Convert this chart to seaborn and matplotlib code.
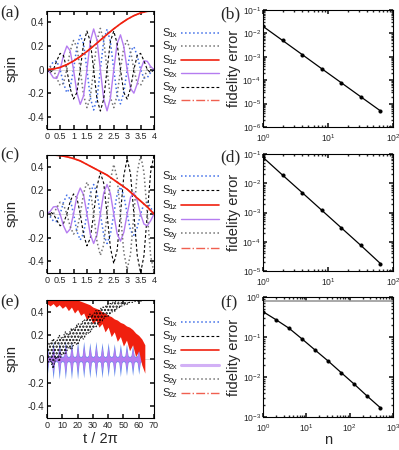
import numpy as np
import matplotlib
matplotlib.use('Agg')
import matplotlib.pyplot as plt
from matplotlib.lines import Line2D
import seaborn as sns

# --- Style -------------------------------------------------------------------
sns.set_theme(style='ticks')
plt.rcParams.update({
    'font.family': ['Liberation Sans', 'DejaVu Sans'],
    'mathtext.fontset': 'custom',
    'mathtext.rm': 'Liberation Sans',
    'mathtext.it': 'Liberation Sans:italic',
    'font.size': 7,
    'xtick.direction': 'in', 'ytick.direction': 'in',
    'xtick.top': True, 'ytick.right': True,
    'xtick.major.size': 3, 'ytick.major.size': 3,
    'xtick.minor.size': 1.5, 'ytick.minor.size': 1.5,
    'xtick.major.pad': 2.5, 'ytick.major.pad': 2,
    'xtick.labelsize': 6.5, 'ytick.labelsize': 7,
    'axes.linewidth': 0.8, 'axes.edgecolor': 'black',
    'hatch.linewidth': 1.1,
})
BLUE = '#3f6ee8'
PURPLE = '#b57cf0'
RED = '#f0200f'
LRED = '#f06050'
GREY = '0.45'

# =============================================================================
# DATA
# =============================================================================
# (a), (c): time axis in units of 2*pi, sampled every 1/8
t_osc = np.linspace(0, 4, 33)
t_z = np.linspace(0, 4, 17)

s1x_a = [0, .024, .068, .072, 0, -.117, -.195, -.157, 0, .192, .291, .218, 0, -.237, -.343, -.246, 0,
         .246, .343, .237, 0, -.218, -.291, -.192, 0, .157, .195, .117, 0, -.072, -.068, -.024, 0]
s2x_a = [0, -.026, -.07, -.075, 0, .12, .2, .16, 0, -.195, -.295, -.222, 0, .24, .345, .25, 0,
         -.25, -.35, -.24, 0, .22, .295, .195, 0, -.16, -.2, -.12, 0, .075, .07, .026, 0]
s1y_a = [0, .024, 0, -.072, -.134, -.117, 0, .157, .247, .192, 0, -.218, -.323, -.237, 0, .246, .35,
         .246, 0, -.237, -.323, -.218, 0, .192, .247, .157, 0, -.117, -.134, -.072, 0, .024, 0]
s2y_a = [0, -.026, 0, .075, .138, .12, 0, -.16, -.25, -.195, 0, .222, .327, .24, 0, -.25, -.352,
         -.25, 0, .24, .327, .222, 0, -.195, -.25, -.16, 0, .12, .138, .075, 0, -.026, 0]
s1z_a = [0, .005, .019, .042, .073, .111, .154, .201, .25, .299, .346, .389, .427, .458, .481, .495, .5]
s2z_a = s1z_a

s1x_c = [0, -.021, -.06, -.064, 0, .099, .16, .127, 0, -.148, -.22, -.163, 0, .173, .25, .177, 0,
         -.177, -.25, -.173, 0, .166, .23, .156, 0, -.141, -.18, -.113, 0, .085, .1, .057, 0]
s2x_c = [0, .021, .06, .064, 0, -.099, -.16, -.127, 0, .148, .22, .163, 0, -.173, -.25, -.177, 0,
         .177, .25, .173, 0, -.166, -.23, -.156, 0, .141, .18, .113, 0, -.085, -.1, -.057, 0]
s1y_c = [0, .018, 0, -.053, -.1, -.081, 0, .106, .17, .138, 0, -.173, -.27, -.205, 0, .233, .35,
         .262, 0, -.286, -.42, -.308, 0, .325, .47, .339, 0, -.35, -.5, -.354, 0, .354, .5]
s2y_c = [-v for v in s1y_c]
s1z_c = [.5, .5, .495, .485, .47, .45, .42, .39, .36, .33, .29, .25, .21, .16, .11, .06, 0]
s2z_c = s1z_c

# (e): long-time dynamics, band edges
t_red = np.arange(0, 65, 2)
red_hi = [.5, .5, .5, .5, .5, .5, .5, .5, .5, .5, .5, .49, .48, .47, .46, .44, .43,
          .42, .4, .39, .37, .36, .34, .33, .31, .3, .28, .27, .25, .22, .2, .17, .12]
red_lo = [.47, .45, .47, .44, .46, .43, .45, .41, .44, .39, .42, .37, .39, .33, .36, .3, .33,
          .27, .3, .23, .27, .19, .23, .15, .19, .11, .16, .07, .12, .02, .07, -.05, -.12]
t_xy = np.arange(0, 63, 1)
blue_hi = [.14, .03, .02, .03, .15, .03, .02, .03, .15, .03, .02, .03, .16, .03, .02, .03,
           .15, .03, .02, .03, .15, .03, .02, .03, .15, .03, .02, .03, .14, .03, .02, .03,
           .15, .03, .02, .03, .14, .03, .02, .03, .14, .03, .02, .03, .13, .03, .02, .03,
           .13, .03, .02, .03, .13, .03, .02, .03, .12, .03, .02, .03, .12, .03, .02]
blue_lo = [-.16, -.03, -.02, -.03, -.17, -.03, -.02, -.03, -.17, -.03, -.02, -.03, -.17, -.03, -.02, -.03,
           -.17, -.03, -.02, -.03, -.17, -.03, -.02, -.03, -.16, -.03, -.02, -.03, -.16, -.03, -.02, -.03,
           -.16, -.03, -.02, -.03, -.16, -.03, -.02, -.03, -.15, -.03, -.02, -.03, -.15, -.03, -.02, -.03,
           -.15, -.03, -.02, -.03, -.14, -.03, -.02, -.03, -.14, -.03, -.02, -.03, -.13, -.03, -.02]
purple_hi = [.1, .02, .015, .02, .11, .02, .015, .02, .11, .02, .015, .02, .12, .02, .015, .02,
             .11, .02, .015, .02, .11, .02, .015, .02, .11, .02, .015, .02, .1, .02, .015, .02,
             .11, .02, .015, .02, .1, .02, .015, .02, .1, .02, .015, .02, .1, .02, .015, .02,
             .09, .02, .015, .02, .09, .02, .015, .02, .09, .02, .015, .02, .08, .02, .015]
purple_lo = [-v for v in purple_hi]
t_band = np.arange(0, 63, 2)
black_hi = [.15, .12, .17, .14, .2, .17, .23, .2, .26, .25, .3, .29, .33, .33, .38, .37,
            .41, .41, .44, .44, .47, .47, .49, .49, .5, .5, .5, .5, .5, .5, .5, .5]
black_lo = [-.05, 0, -.08, .02, -.02, .05, .04, .1, .08, .14, .12, .18, .17, .22, .22, .27,
            .27, .31, .32, .36, .36, .4, .4, .43, .44, .46, .46, .48, .48, .49, .49, .49]

# (b), (d), (f): fidelity error vs number of steps n
n_b = [1, 2, 4, 8, 16, 32, 64]
err_b = [2.0e-2, 5.0e-3, 1.25e-3, 3.1e-4, 7.8e-5, 1.95e-5, 4.9e-6]
n_d = [1, 2, 4, 8, 16, 32, 64]
err_d = [7.7e-2, 1.9e-2, 4.8e-3, 1.2e-3, 3.0e-4, 7.5e-5, 1.8e-5]
n_f = [1, 2, 4, 8, 16, 32, 64, 128, 256, 512]
err_f = [0.43, 0.27, 0.165, 0.089, 0.047, 0.025, 0.0128, 0.0066, 0.0033, 0.0017]
ref_f = 0.78

subs = ['1x', '1y', '1z', '2x', '2y', '2z']

# line styles per curve (S1x, S1y, S1z, S2x, S2y, S2z)
sty_a = [dict(color=BLUE, ls=':', lw=1.1), dict(color=GREY, ls=':', lw=1.1),
         dict(color=RED, ls='-', lw=1.2), dict(color=PURPLE, ls='-', lw=1.0),
         dict(color='black', ls=(0, (2.5, 2)), lw=0.8), dict(color=LRED, ls='-.', lw=1.0)]
sty_c = [dict(color=BLUE, ls=':', lw=1.1), dict(color='black', ls=(0, (2.5, 2)), lw=0.8),
         dict(color=RED, ls='-', lw=1.2), dict(color=PURPLE, ls='-', lw=1.0),
         dict(color=GREY, ls=':', lw=1.1), dict(color=LRED, ls='-.', lw=1.0)]
sty_e = [dict(color=BLUE, ls=':', lw=1.1), dict(color='black', ls=(0, (2.5, 2)), lw=0.8),
         dict(color=RED, ls='-', lw=1.2), dict(color=PURPLE, ls='-', lw=2.2, alpha=0.6),
         dict(color=GREY, ls=':', lw=1.1), dict(color=LRED, ls='-.', lw=1.0)]

# =============================================================================
# FIGURE
# =============================================================================
W, H = 399, 450
fig = plt.figure(figsize=(W / 100, H / 100), dpi=100)


def px_axes(x0, x1, y0, y1):
    return fig.add_axes([x0 / W, 1 - y1 / H, (x1 - x0) / W, (y1 - y0) / H])


def spin_legend(styles, y0, step=14):
    for i, (sub, st) in enumerate(zip(subs, styles)):
        yp = y0 + i * step
        fig.text(162 / W, 1 - yp / H, 'S', fontsize=8, ha='left', va='center')
        fig.text(168.5 / W, 1 - (yp + 2.5) / H, sub, fontsize=5.8, ha='left', va='center')
        fig.add_artist(Line2D([181 / W, 219 / W], [1 - yp / H, 1 - yp / H],
                              transform=fig.transFigure, **st))


def spin_frame(ax):
    ax.axhline(0, color='0.85', lw=0.7, zorder=0)
    ax.set_ylim(-0.5, 0.5)
    ax.set_yticks([-0.4, -0.2, 0, 0.2, 0.4])
    ax.set_yticklabels(['-0.4', '-0.2', '0', '0.2', '0.4'])
    ax.set_xlabel('')
    ax.set_ylabel('')


def osc_panel(ax, curves_osc, curves_z, styles):
    for vals, st in zip(curves_osc, [styles[0], styles[1], styles[3], styles[4]]):
        sns.lineplot(x=t_osc, y=vals, ax=ax, estimator=None, **st)
    for vals, st in zip(curves_z, [styles[5], styles[2]]):
        sns.lineplot(x=t_z, y=vals, ax=ax, estimator=None, **st)
    ax.set_xlim(0, 4)
    ax.set_xticks(np.arange(0, 4.01, 0.5))
    ax.set_xticklabels(['0', '0.5', '1', '1.5', '2', '2.5', '3', '3.5', '4'])
    spin_frame(ax)


def fid_panel(ax, n, err, xmax, ymin, ymax):
    sns.lineplot(x=n, y=err, ax=ax, color='black', lw=0.9, marker='o', markersize=2.2,
                 markeredgecolor='black', estimator=None)
    ax.set_xscale('log')
    ax.set_yscale('log')
    ax.set_xlim(1, xmax)
    ax.set_ylim(ymin, ymax)
    ax.set_xlabel('')
    ax.set_ylabel('')
    ax.tick_params(axis='x', which='both', labelsize=6.2, pad=3.5)
    ax.tick_params(axis='y', which='both', labelsize=6.2, pad=1.5)
    ax.tick_params(which='minor', direction='in', top=True, right=True)


# (a)
ax_a = px_axes(46.7, 154, 10.7, 128.5)
osc_panel(ax_a, [s1x_a, s1y_a, s2x_a, s2y_a], [s2z_a, s1z_a], sty_a)
spin_legend(sty_a, 33, 13.4)

# (b)
ax_b = px_axes(263, 393, 10, 127)
fid_panel(ax_b, n_b, err_b, 100, 1e-6, 1e-1)

# (c)
ax_c = px_axes(46.7, 154, 155, 273)
osc_panel(ax_c, [s1x_c, s1y_c, s2x_c, s2y_c], [s2z_c, s1z_c], sty_c)
spin_legend(sty_c, 176, 14.3)

# (d)
ax_d = px_axes(263, 393, 154, 271)
fid_panel(ax_d, n_d, err_d, 100, 1e-5, 1e-1)

# (e)
ax_e = px_axes(47, 154, 300, 418)
ax_e.fill_between(t_xy, blue_lo, blue_hi, color=BLUE, alpha=0.8, lw=0)
ax_e.fill_between(t_xy, purple_lo, purple_hi, color=PURPLE, lw=0)
ax_e.fill_between(t_red, red_lo, red_hi, color=RED, lw=0)
ax_e.fill_between(t_band, black_lo, black_hi, facecolor='none', edgecolor='black',
                  hatch='.....', lw=0, zorder=3)
sns.lineplot(x=t_band, y=black_hi, ax=ax_e, color='black', lw=0.8, ls=':', zorder=3)
sns.lineplot(x=t_band, y=black_lo, ax=ax_e, color='black', lw=0.8, ls=':', zorder=3)
ax_e.set_xlim(0, 70)
ax_e.set_xticks(np.arange(0, 71, 10))
spin_frame(ax_e)
spin_legend(sty_e, 322, 14.2)

# (f)
ax_f = px_axes(263, 393, 297, 417)
ax_f.axhline(ref_f, color='0.6', lw=1.2)
fid_panel(ax_f, n_f, err_f, 1000, 1e-3, 1e0)

# labels
for s, x, y in [('(a)', 0, 13), ('(b)', 220, 14), ('(c)', 0, 155), ('(d)', 220, 157),
                ('(e)', 0, 302), ('(f)', 220, 303)]:
    fig.text(x / W, 1 - y / H, s, family='Liberation Serif', fontsize=12.5,
             ha='left', va='center')
for y in [68, 214, 359]:
    fig.text(12 / W, 1 - y / H, 'spin', fontsize=10.5, rotation=90, ha='center', va='center')
for y in [68, 212, 357]:
    fig.text(234 / W, 1 - y / H, 'fidelity error', fontsize=10.5, rotation=90,
             ha='center', va='center')
fig.text(100 / W, 1 - 439 / H, 't / 2π', fontsize=10.5, ha='center', va='center')
fig.text(328 / W, 1 - 440 / H, 'n', fontsize=10.5, ha='center', va='center')

fig.savefig('out.png', dpi=100)
